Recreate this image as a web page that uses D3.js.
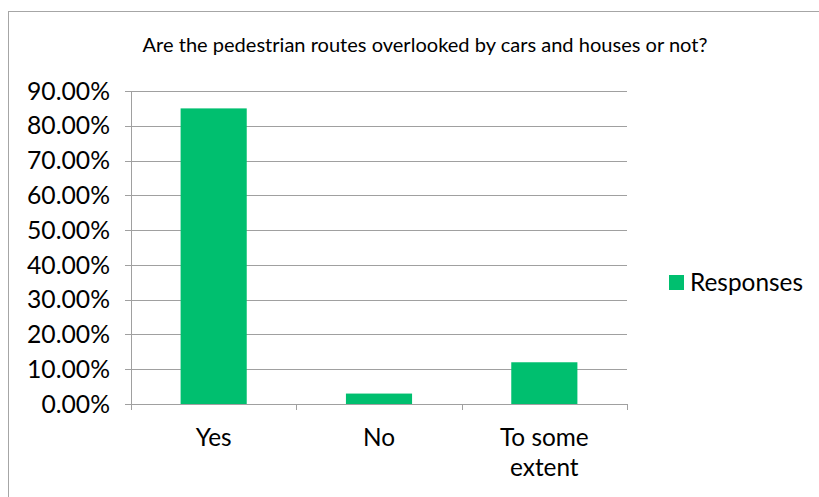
<!DOCTYPE html>
<html><head><meta charset="utf-8">
<script src="https://cdn.jsdelivr.net/npm/d3@7/dist/d3.min.js"></script>
<style>body{margin:0;background:#fff}svg{display:block}text{font-family:Lato,"Open Sans","Liberation Sans",sans-serif;fill:#000}</style>
</head><body>
<script>
const categories = ["Yes", "No", "To some extent"];
const values = [0.85, 0.03, 0.12];
const yTicks = [0, 0.1, 0.2, 0.3, 0.4, 0.5, 0.6, 0.7, 0.8, 0.9];
const seriesName = "Responses";
const title = "Are the pedestrian routes overlooked by cars and houses or not?";

(function () {
const W = 819, H = 497;
const svg = d3.select("body").append("svg").attr("width", W).attr("height", H);
svg.append("rect").attr("x", 8.5).attr("y", 11.5).attr("width", W + 10).attr("height", H + 10)
  .attr("fill", "#fff").attr("stroke", "#a6a6a6").attr("stroke-width", 1);

const pL = 131, pR = 627, pT = 91, pB = 404;
const x = d3.scaleBand().domain(categories).range([pL, pR]).paddingInner(0.6).paddingOuter(0.3);
const xOuter = d3.scaleBand().domain(categories).range([pL, pR]);
const y = d3.scaleLinear().domain([0, 0.9]).range([pB, pT]);

function fit(t, w) {
  const n = t.node(); const fs = parseFloat(t.attr("font-size"));
  const len = n.getComputedTextLength(); t.attr("font-size", fs * w / len);
  return fs * w / len;
}

const tt = svg.append("text").attr("x", 425).attr("y", 52).attr("text-anchor", "middle").attr("font-size", 14).text(title);
fit(tt, 565);

svg.append("g").selectAll("line").data(yTicks).join("line")
  .attr("x1", pL - 6).attr("x2", pR).attr("y1", d => Math.round(y(d)) + 0.5).attr("y2", d => Math.round(y(d)) + 0.5)
  .attr("stroke", "#a0a0a0").attr("stroke-width", 1);

const yl = svg.append("g").selectAll("text").data(yTicks).join("text")
  .attr("x", 110).attr("y", d => y(d)).attr("dy", "0.35em").attr("text-anchor", "end")
  .attr("font-size", 18).text(d => d3.format(".2%")(d));
const fsY = fit(d3.select(yl.nodes()[9]), 83);
yl.attr("font-size", fsY);

svg.append("line").attr("x1", pL + 0.5).attr("x2", pL + 0.5).attr("y1", pT).attr("y2", pB + 6)
  .attr("stroke", "#a0a0a0");
const xt = categories.map(c => xOuter(c)).concat([pR]);
svg.append("g").selectAll("line").data(xt).join("line")
  .attr("x1", d => Math.round(d) + 0.5).attr("x2", d => Math.round(d) + 0.5).attr("y1", pB).attr("y2", pB + 6)
  .attr("stroke", "#a0a0a0");

svg.append("g").selectAll("rect").data(values).join("rect")
  .attr("x", (d, i) => x(categories[i])).attr("width", x.bandwidth())
  .attr("y", d => y(d)).attr("height", d => pB - y(d)).attr("fill", "#00bf6f");

svg.append("rect").attr("x", 669).attr("y", 275).attr("width", 15).attr("height", 15).attr("fill", "#00bf6f");
const lg = svg.append("text").attr("x", 690).attr("y", 282.5).attr("dy", "0.35em").attr("font-size", 18).text(seriesName);
const fsL = fit(lg, 113);

const xlab = svg.append("g").selectAll("text").data(categories).join("text")
  .attr("x", d => xOuter(d) + xOuter.bandwidth() / 2).attr("y", 446)
  .attr("text-anchor", "middle").attr("font-size", fsL);
xlab.each(function(d) {
  const t = d3.select(this);
  const lines = d === "To some extent" ? ["To some", "extent"] : [d];
  lines.forEach((l, i) => t.append("tspan").attr("x", t.attr("x")).attr("dy", i ? 30 : 0).text(l));
});
})();
</script>
</body></html>
